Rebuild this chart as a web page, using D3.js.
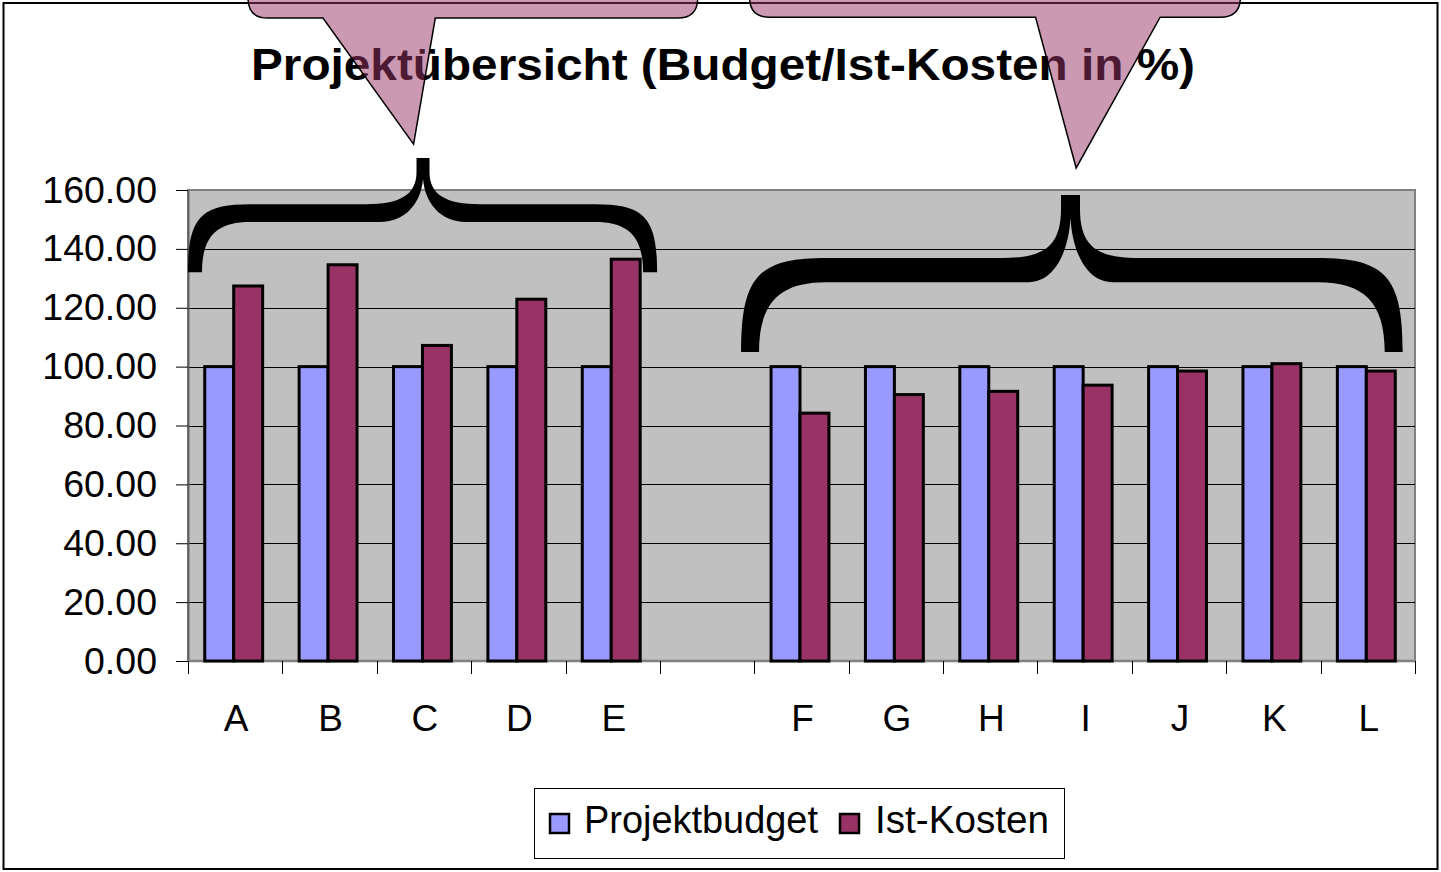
<!DOCTYPE html>
<html>
<head>
<meta charset="utf-8">
<script src="https://cdn.jsdelivr.net/npm/d3@7"></script>
<style>
  html, body { margin: 0; padding: 0; background: #fff; }
  svg { display: block; }
  text { font-family: "Liberation Sans", Arial, sans-serif; }
</style>
</head>
<body>
<svg id="chart" width="1441" height="872"></svg>
<script>
// ---------- data ----------
const categories = ["A", "B", "C", "D", "E", "", "F", "G", "H", "I", "J", "K", "L"];
const projektbudget = [100, 100, 100, 100, 100, null, 100, 100, 100, 100, 100, 100, 100];
const istKosten = [127.4, 134.6, 107.2, 122.9, 136.5, null, 84.2, 90.5, 91.6, 93.7, 98.5, 101, 98.5];
const seriesNames = ["Projektbudget", "Ist-Kosten"];
const seriesColors = ["#9999FF", "#993366"];
const yTicks = [0, 20, 40, 60, 80, 100, 120, 140, 160];
const titleText = "Projektübersicht (Budget/Ist-Kosten in %)";

// annotations in category-index / value units
const braces = [
  { from: 0, to: 4.97, mid: 2.49, top: 170.9, bandTop: 155.2, bandBot: 149.1, bottom: 132.1, notch: 163.7, thick: 14, tip: 13, rh: 62, rm: 57, rm2: 43 },
  { from: 5.86, to: 12.87, mid: 9.35, top: 158.3, bandTop: 136.9, bandBot: 128.7, bottom: 105, notch: 150.5, thick: 18, tip: 19, rh: 85, rm: 68, rm2: 42 }
];
const callouts = [
  { from: 0.636, to: 5.40, bottom: 218.4, baseL: 1.43, baseR: 2.62, tipX: 2.39, tipY: 175.6 },
  { from: 5.95, to: 11.15, bottom: 218.7, baseL: 8.98, baseR: 10.30, tipX: 9.41, tipY: 167.5 }
];

// ---------- layout ----------
const svg = d3.select("#chart");
const W = 1441, H = 872;
const plot = { left: 188, right: 1415, top: 190, bottom: 661 };

const x = d3.scaleBand().domain(categories).range([plot.left, plot.right]).paddingInner(0).paddingOuter(0);
const xi = d3.scaleLinear().domain([0, categories.length]).range([plot.left, plot.right]);
const x1 = d3.scaleBand().domain(seriesNames).range([-1.5, x.bandwidth() - 1.5]).paddingOuter(0.63).paddingInner(0);
const y = d3.scaleLinear().domain([0, 160]).range([plot.bottom, plot.top]);

// outer frame
svg.append("rect").attr("x", 3.5).attr("y", 3).attr("width", W - 7).attr("height", H - 6)
  .attr("fill", "#fff").attr("stroke", "#000").attr("stroke-width", 2);

// title
svg.append("text").attr("x", 723).attr("y", 80).attr("text-anchor", "middle")
  .attr("font-size", 45).attr("font-weight", "bold").attr("fill", "#000")
  .attr("textLength", 944).attr("lengthAdjust", "spacingAndGlyphs")
  .text(titleText);

// plot background
svg.append("rect").attr("x", plot.left).attr("y", plot.top)
  .attr("width", plot.right - plot.left).attr("height", plot.bottom - plot.top)
  .attr("fill", "#C0C0C0").attr("stroke", "#808080").attr("stroke-width", 2);

// gridlines
svg.append("g").selectAll("line").data(yTicks.filter(d => d > 0 && d < 160)).join("line")
  .attr("x1", plot.left).attr("x2", plot.right)
  .attr("y1", d => Math.round(y(d)) + 0.5).attr("y2", d => Math.round(y(d)) + 0.5)
  .attr("stroke", "#000").attr("stroke-width", 1);

// y axis
const yAxis = d3.axisLeft(y).tickValues(yTicks).tickFormat(d3.format(".2f")).tickSize(12).tickPadding(19).tickSizeOuter(0);
const gy = svg.append("g").attr("transform", `translate(${plot.left},0)`).call(yAxis);
gy.select(".domain").attr("stroke", "#606060").attr("stroke-width", 2);
gy.selectAll(".tick line").attr("stroke", "#000");
gy.selectAll(".tick text").attr("font-size", 37.5).attr("fill", "#000")
  .attr("font-family", "'Liberation Sans', Arial, sans-serif");

// x axis line and ticks at band boundaries
svg.append("line").attr("x1", plot.left).attr("x2", plot.right).attr("y1", plot.bottom).attr("y2", plot.bottom)
  .attr("stroke", "#808080").attr("stroke-width", 2.5);
const boundaries = d3.range(categories.length + 1);
svg.append("g").selectAll("line").data(boundaries).join("line")
  .attr("x1", d => Math.round(xi(d)) + 0.5).attr("x2", d => Math.round(xi(d)) + 0.5)
  .attr("y1", plot.bottom).attr("y2", plot.bottom + 13)
  .attr("stroke", "#000").attr("stroke-width", 1);
svg.append("g").selectAll("text").data(categories).join("text")
  .attr("x", d => x(d) + x.bandwidth() / 2 + 1).attr("y", 731)
  .attr("text-anchor", "middle").attr("font-size", 37).attr("fill", "#000")
  .text(d => d);

// bars
const rows = categories.map((c, i) => ({ cat: c, vals: [projektbudget[i], istKosten[i]] }));
const groups = svg.append("g").selectAll("g").data(rows.filter(r => r.vals[0] !== null)).join("g")
  .attr("transform", d => `translate(${x(d.cat)},0)`);
groups.selectAll("rect").data(d => d.vals.map((v, k) => ({ key: seriesNames[k], v, k }))).join("rect")
  .attr("x", d => x1(d.key)).attr("width", x1.bandwidth())
  .attr("y", d => y(d.v)).attr("height", d => y(0) - y(d.v))
  .attr("fill", d => seriesColors[d.k]).attr("stroke", "#000").attr("stroke-width", 3);

// braces
function bracePath(b) {
  const x0 = xi(b.from), x1p = xi(b.to), xc = xi(b.mid);
  const yT = y(b.top), yBT = y(b.bandTop), yBB = y(b.bandBot), yBo = y(b.bottom), yN = y(b.notch);
  const t = b.thick, tw = b.tip / 2, rh = b.rh, rm = b.rm, rm2 = b.rm2;
  const p = d3.path();
  p.moveTo(x0, yBo);
  p.bezierCurveTo(x0, yBT + (yBo - yBT) * 0.2, x0 + rh * 0.2, yBT, x0 + rh, yBT);
  p.lineTo(xc - rm, yBT);
  p.bezierCurveTo(xc - tw - rm * 0.3, yBT, xc - tw, yBT - 9, xc - tw, yT + 14);
  p.lineTo(xc - tw, yT);
  p.lineTo(xc + tw, yT);
  p.lineTo(xc + tw, yT + 14);
  p.bezierCurveTo(xc + tw, yBT - 9, xc + tw + rm * 0.3, yBT, xc + rm, yBT);
  p.lineTo(x1p - rh, yBT);
  p.bezierCurveTo(x1p - rh * 0.2, yBT, x1p, yBT + (yBo - yBT) * 0.2, x1p, yBo);
  p.lineTo(x1p - t, yBo);
  p.bezierCurveTo(x1p - t, yBB + (yBo - yBB) * 0.3, x1p - t - (rh - t) * 0.3, yBB, x1p - rh, yBB);
  p.lineTo(xc + rm2, yBB);
  p.bezierCurveTo(xc + rm2 * 0.4, yBB, xc + 2, yBB - (yBB - yN) * 0.45, xc, yN);
  p.bezierCurveTo(xc - 2, yBB - (yBB - yN) * 0.45, xc - rm2 * 0.4, yBB, xc - rm2, yBB);
  p.lineTo(x0 + rh, yBB);
  p.bezierCurveTo(x0 + t + (rh - t) * 0.3, yBB, x0 + t, yBB + (yBo - yBB) * 0.3, x0 + t, yBo);
  p.closePath();
  return p.toString();
}
svg.append("g").selectAll("path").data(braces).join("path")
  .attr("d", bracePath).attr("fill", "#000");

// callouts (semi-transparent)
function calloutPath(c) {
  const l = xi(c.from), r = xi(c.to), b = y(c.bottom), top = -60, rad = 20;
  const p = d3.path();
  p.moveTo(l, top);
  p.lineTo(l, b - rad);
  p.quadraticCurveTo(l, b, l + rad, b);
  p.lineTo(xi(c.baseL), b);
  p.lineTo(xi(c.tipX), y(c.tipY));
  p.lineTo(xi(c.baseR), b);
  p.lineTo(r - rad, b);
  p.quadraticCurveTo(r, b, r, b - rad);
  p.lineTo(r, top);
  p.closePath();
  return p.toString();
}
svg.append("g").selectAll("path").data(callouts).join("path")
  .attr("d", calloutPath).attr("fill", "#993366").attr("fill-opacity", 0.5)
  .attr("stroke", "#000").attr("stroke-width", 1.5);

// legend
const lg = svg.append("g");
lg.append("rect").attr("x", 534.5).attr("y", 788.5).attr("width", 530).attr("height", 70)
  .attr("fill", "#fff").attr("stroke", "#000").attr("stroke-width", 1);
const legendItems = [
  { name: seriesNames[0], color: seriesColors[0], sx: 549, tx: 584, tw: 234 },
  { name: seriesNames[1], color: seriesColors[1], sx: 839, tx: 875, tw: 174 }
];
lg.selectAll("rect.sw").data(legendItems).join("rect").attr("class", "sw")
  .attr("x", d => d.sx + 1).attr("y", 814).attr("width", 19).attr("height", 19)
  .attr("fill", d => d.color).attr("stroke", "#000").attr("stroke-width", 2.5);
lg.selectAll("text").data(legendItems).join("text")
  .attr("x", d => d.tx).attr("y", 833).attr("font-size", 38).attr("fill", "#000")
  .attr("textLength", d => d.tw).attr("lengthAdjust", "spacingAndGlyphs")
  .text(d => d.name);
</script>
</body>
</html>
